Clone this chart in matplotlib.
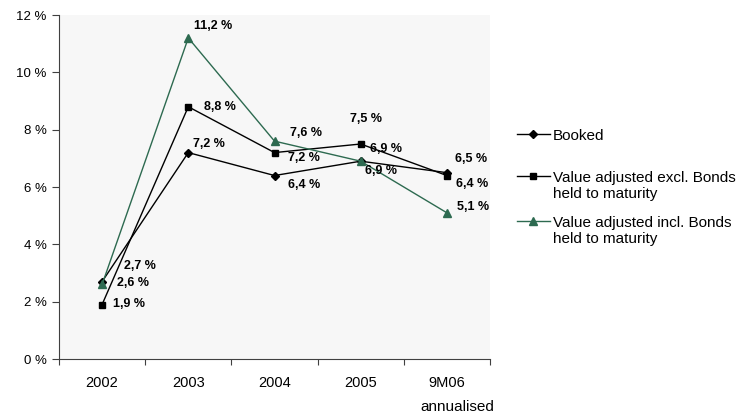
import matplotlib
matplotlib.use("Agg")
import matplotlib.pyplot as plt
from matplotlib.lines import Line2D

plt.rcParams['font.family'] = ['Liberation Sans', 'DejaVu Sans']

categories = ["2002", "2003", "2004", "2005", "9M06"]
booked = [2.7, 7.2, 6.4, 6.9, 6.5]
excl = [1.9, 8.8, 7.2, 7.5, 6.4]
incl = [2.6, 11.2, 7.6, 6.9, 5.1]
yticks = [0, 2, 4, 6, 8, 10, 12]
series_names = ["Booked", "Value adjusted excl. Bonds\nheld to maturity",
                "Value adjusted incl. Bonds\nheld to maturity"]

green = "#2d6a50"
W, H = 742, 416

fig = plt.figure(figsize=(W/100, H/100), dpi=100)
ax = fig.add_axes([59/W, 1-359/H, (490-59)/W, (359-15)/H])
ax.set_facecolor("#f7f7f7")
x = list(range(len(categories)))

styles = [dict(color="black", marker="D", ms=4.5),
          dict(color="black", marker="s", ms=5),
          dict(color=green, marker="^", ms=6)]
data = [booked, excl, incl]
for vals, st in zip(data, styles):
    ax.plot(x, vals, lw=1, **st)

def fmt(v):
    return f"{v:.1f}".replace(".", ",") + " %"

# label offsets in pixels (dx to left edge, dy up)
off_booked = [(22, 16), (5, 9), (13, -9), (9, 12), (8, 14)]
off_excl = [(11, 1), (16, 0), (13, -5), (-11, 25), (9, -8)]
off_incl = [(15, 1), (6, 12), (16, 8), (4, -10), (10, 6)]
for vals, offs in zip(data, (off_booked, off_excl, off_incl)):
    for xi, v, (dx, dy) in zip(x, vals, offs):
        ax.annotate(fmt(v), (xi, v), xytext=(dx, dy), textcoords="offset pixels",
                    fontsize=9, fontweight="bold", ha="left", va="center")

ax.set_xlim(-0.5, 4.5)
ax.set_ylim(0, 12)
ax.set_yticks(yticks)
ax.set_yticklabels([f"{t} %" for t in yticks], fontsize=9.5)
ax.set_xticks([i - 0.5 for i in range(len(categories) + 1)])
ax.set_xticklabels([])
ax.set_xticks(x, minor=True)
ax.set_xticklabels(categories, minor=True, fontsize=10.5)
ax.tick_params(axis="x", which="minor", length=0, pad=12)
ax.tick_params(axis="x", which="major", length=4, direction="out", color="#404040")
ax.tick_params(axis="y", length=5, direction="out", pad=4, color="#404040")
for s in ("top", "right"):
    ax.spines[s].set_visible(False)
for s in ("left", "bottom"):
    ax.spines[s].set_color("#404040")
    ax.spines[s].set_linewidth(0.8)

fig.text(457/W, 1-407/H, "annualised", fontsize=11, ha="center", va="center")

# manual legend: handle aligned with first text line
leg_y = [134, 176, 221]
for yy, st, name in zip(leg_y, styles, series_names):
    fig.add_artist(Line2D([517/W, 550/W], [1-yy/H, 1-yy/H], transform=fig.transFigure,
                          color=st["color"], lw=1))
    fig.add_artist(Line2D([533/W], [1-yy/H], transform=fig.transFigure,
                          color=st["color"], marker=st["marker"], ms=st["ms"]*0.85, lw=0))
    fig.text(553/W, 1-(yy-5)/H, name, fontsize=11, ha="left", va="top", linespacing=1.2)

fig.savefig("out.png", dpi=100)
